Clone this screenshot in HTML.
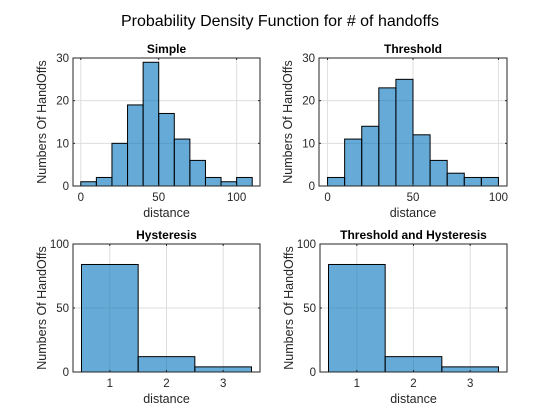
<!DOCTYPE html>
<html><head><meta charset="utf-8"><style>
html,body{margin:0;padding:0;background:#fff;}
svg{display:block;font-family:"Liberation Sans",Arial,sans-serif;}
</style></head><body>
<svg id="fig" width="560" height="420" viewBox="0 0 560 420" xmlns="http://www.w3.org/2000/svg">
<rect width="560" height="420" fill="#fff"/>
<text x="280" y="26" text-anchor="middle" font-size="16" fill="#000">Probability Density Function for # of handoffs</text>
</svg>
<script>
// Simple
const simpleEdges = [0,10,20,30,40,50,60,70,80,90,100,110];
const simpleCounts = [1,2,10,19,29,17,11,6,2,1,2];
const simpleXTicks = [0,50,100];
const simpleYTicks = [0,10,20,30];
// Threshold
const thrEdges = [0,10,20,30,40,50,60,70,80,90,100];
const thrCounts = [2,11,14,23,25,12,6,3,2,2];
const thrXTicks = [0,50,100];
const thrYTicks = [0,10,20,30];
// Hysteresis
const hysEdges = [0.5,1.5,2.5,3.5];
const hysCounts = [84,12,4];
// Threshold and Hysteresis
const thEdges = [0.5,1.5,2.5,3.5];
const thCounts = [84,12,4];
const catXTicks = [1,2,3];
const catYTicks = [0,50,100];

const NS='http://www.w3.org/2000/svg';
const svg=document.getElementById('fig');
function mk(tag,attrs,parent){const e=document.createElementNS(NS,tag);for(const k in attrs)e.setAttribute(k,attrs[k]);(parent||svg).appendChild(e);return e;}

function panel(cfg){
  const g=mk('g',{});
  
  
  const L=cfg.box[0],T=cfg.box[1],R=cfg.box[2],B=cfg.box[3];
  const sx=v=>L+(v-cfg.xlim[0])/(cfg.xlim[1]-cfg.xlim[0])*(R-L);
  const sy=v=>B-(v-cfg.ylim[0])/(cfg.ylim[1]-cfg.ylim[0])*(B-T);
  mk('rect',{x:L,y:T,width:R-L,height:B-T,fill:'#fff'},g);
  cfg.xt.forEach(v=>{const l=mk('line',{x1:sx(v),x2:sx(v),y1:T,y2:B,stroke:'#dedede','stroke-width':1},g);
    
    });
  cfg.yt.forEach(v=>{const l=mk('line',{x1:L,x2:R,y1:sy(v),y2:sy(v),stroke:'#dedede','stroke-width':1},g);
    
    });
  cfg.counts.forEach((c,i)=>{
    const x0=sx(cfg.edges[i]),x1=sx(cfg.edges[i+1]),y=sy(c);
    const r=mk('rect',{x:x0,y:y,width:x1-x0,height:sy(0)-y,fill:'rgb(0,114,189)','fill-opacity':0.6,stroke:'#000','stroke-width':1},g);
    
    
  });
  const bx=mk('rect',{x:L,y:T,width:R-L,height:B-T,fill:'none',stroke:'#262626','stroke-width':1},g);
  
  
  cfg.xt.forEach(v=>{
    mk('line',{x1:sx(v),x2:sx(v),y1:B,y2:B-2,stroke:'#262626'},g);
    mk('line',{x1:sx(v),x2:sx(v),y1:T,y2:T+2,stroke:'#262626'},g);
    const t=mk('text',{x:sx(v),y:B+15,'text-anchor':'middle','font-size':11.5,fill:'#262626'},g);t.textContent=v;
    
    
  });
  cfg.yt.forEach(v=>{
    mk('line',{x1:L,x2:L+2,y1:sy(v),y2:sy(v),stroke:'#262626'},g);
    mk('line',{x1:R,x2:R-2,y1:sy(v),y2:sy(v),stroke:'#262626'},g);
    const t=mk('text',{x:L-4,y:sy(v)+4,'text-anchor':'end','font-size':11.5,fill:'#262626'},g);t.textContent=v;
    
    
  });
  const tt=mk('text',{x:(L+R)/2,y:T-5,'text-anchor':'middle','font-size':12,'font-weight':'bold',fill:'#000'},g);tt.textContent=cfg.title;
  
  
  const xl=mk('text',{x:(L+R)/2,y:B+31,'text-anchor':'middle','font-size':12.5,fill:'#262626'},g);xl.textContent='distance';
  
  
  const yx=L-27,yy=(T+B)/2;
  const yl=mk('text',{x:yx,y:yy,'text-anchor':'middle','font-size':12.5,fill:'#262626',transform:`rotate(-90 ${yx} ${yy})`},g);yl.textContent='Numbers Of HandOffs';
  
  
}
panel({name:'simple-subplot',title:'Simple',box:[73,58,260,186],xlim:[-5,115],ylim:[0,30],edges:simpleEdges,counts:simpleCounts,xt:simpleXTicks,yt:simpleYTicks});
panel({name:'threshold-subplot',title:'Threshold',box:[319,58,507,186],xlim:[-5,105],ylim:[0,30],edges:thrEdges,counts:thrCounts,xt:thrXTicks,yt:thrYTicks});
panel({name:'hysteresis-subplot',title:'Hysteresis',box:[73,244,260,372],xlim:[0.35,3.65],ylim:[0,100],edges:hysEdges,counts:hysCounts,xt:catXTicks,yt:catYTicks});
panel({name:'threshold-hysteresis-subplot',title:'Threshold and Hysteresis',box:[320,244,507,372],xlim:[0.35,3.65],ylim:[0,100],edges:thEdges,counts:thCounts,xt:catXTicks,yt:catYTicks});
</script>
</body></html>
